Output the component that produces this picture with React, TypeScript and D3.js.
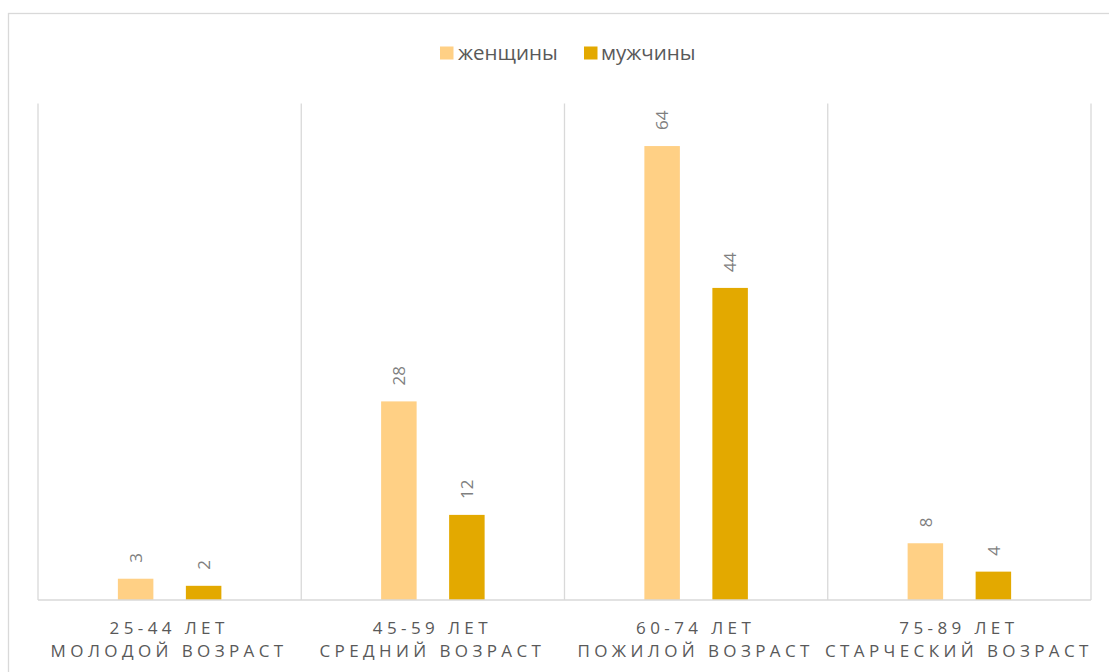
import React from "react";
import * as d3 from "d3";

// Age groups (two-line tick labels) and counts per sex
const ageRanges = ["25-44 ЛЕТ", "45-59 ЛЕТ", "60-74 ЛЕТ", "75-89 ЛЕТ"];
const ageNames = ["МОЛОДОЙ ВОЗРАСТ", "СРЕДНИЙ ВОЗРАСТ", "ПОЖИЛОЙ ВОЗРАСТ", "СТАРЧЕСКИЙ ВОЗРАСТ"];
const seriesNames = ["женщины", "мужчины"];
const women = [3, 28, 64, 8];
const men = [2, 12, 44, 4];
const seriesValues = [women, men];
const yMax = 70;

const colors = ["#FFD085", "#E3A900"];
const FONT = "'Open Sans', 'DejaVu Sans', sans-serif";

const W = 1109;
const H = 672;
const plot = { left: 38, right: 1091, top: 103.5, bottom: 600 };

export default function App() {
  const x = d3
    .scaleBand<string>()
    .domain(ageRanges)
    .range([plot.left, plot.right])
    .paddingInner(0)
    .paddingOuter(0);
  const y = d3.scaleLinear().domain([0, yMax]).range([plot.bottom, plot.top]);

  const barW = 35.5;
  const gap = 32.5;
  const groupW = barW * 2 + gap;
  const bw = x.bandwidth();
  const groupOffset = (bw - groupW) / 2;
  const barX = (i: number, s: number) => (x(ageRanges[i]) as number) + groupOffset + s * (barW + gap);

  const boundaries = d3.range(ageRanges.length + 1).map((i) => plot.left + i * bw);

  const legendItems = [
    { name: seriesNames[0], sx: 440, tx: 458 },
    { name: seriesNames[1], sx: 584, tx: 601 },
  ];

  return (
    <svg
      width={W}
      height={H}
      style={{ position: "absolute", left: 0, top: 0, background: "#fff" }}
      fontFamily={FONT}
    >
      {/* chart frame */}
      <rect x={8.5} y={13.5} width={W + 10} height={H + 10} fill="#fff" stroke="#D9D9D9" strokeWidth={1.3} />

      {/* category separators */}
      {boundaries.map((bx, i) => (
        <line key={i} x1={bx} x2={bx} y1={plot.top} y2={plot.bottom} stroke="#D9D9D9" strokeWidth={1.3} />
      ))}

      {/* bars */}
      {seriesValues.map((vals, s) =>
        vals.map((v, i) => (
          <rect
            key={`${s}-${i}`}
            x={barX(i, s)}
            y={y(v)}
            width={barW}
            height={y(0) - y(v)}
            fill={colors[s]}
          />
        ))
      )}

      {/* data labels, rotated */}
      {seriesValues.map((vals, s) =>
        vals.map((v, i) => {
          const cx = barX(i, s) + barW / 2;
          const ty = y(v) - 16;
          return (
            <text
              key={`l-${s}-${i}`}
              transform={`translate(${cx},${ty}) rotate(-90)`}
              dy="0.36em"
              textAnchor="start"
              fontSize={17}
              fill="#7F7F7F"
            >
              {v}
            </text>
          );
        })
      )}

      {/* x axis line */}
      <line x1={plot.left} x2={plot.right} y1={plot.bottom} y2={plot.bottom} stroke="#D9D9D9" strokeWidth={1.3} />

      {/* category labels */}
      {ageRanges.map((r, i) => {
        const cx = (x(r) as number) + bw / 2 - 0.5;
        return (
          <g key={r}>
            <text x={cx} y={633.5} textAnchor="middle" fontSize={17} letterSpacing={4.4} fill="#595959">
              {r}
            </text>
            <text x={cx} y={657} textAnchor="middle" fontSize={17} letterSpacing={4.4} fill="#595959">
              {ageNames[i]}
            </text>
          </g>
        );
      })}

      {/* legend */}
      {legendItems.map((it, s) => (
        <g key={it.name}>
          <rect x={it.sx} y={46.5} width={13.5} height={13} fill={colors[s]} />
          <text x={it.tx} y={59.5} fontSize={20.5} fill="#595959">
            {it.name}
          </text>
        </g>
      ))}
    </svg>
  );
}
